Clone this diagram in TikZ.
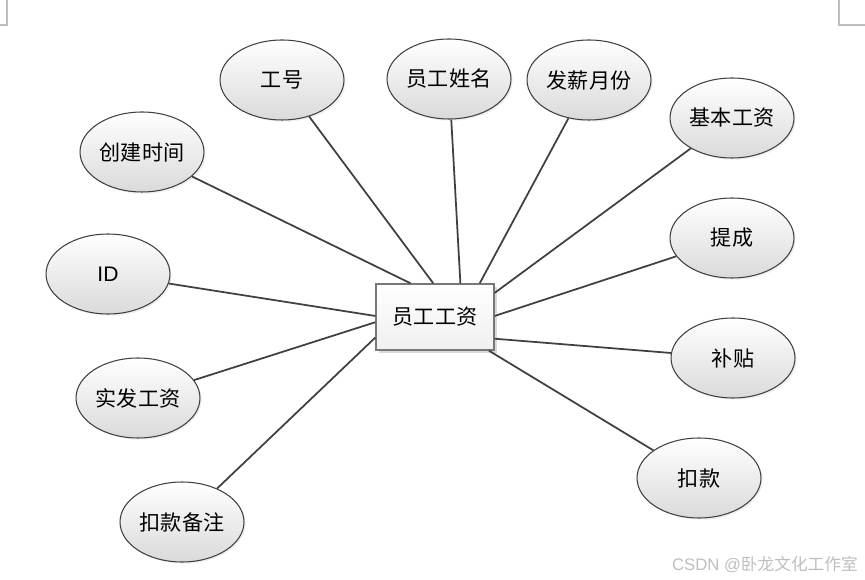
\documentclass[tikz,border=0pt]{standalone}
\usepackage{fontspec}
\setsansfont{Liberation Sans}
\newfontfamily\cjk{Noto Sans CJK SC}
\usetikzlibrary{shapes.geometric,shadows}
\definecolor{erline}{RGB}{64,64,64}
\definecolor{erfill}{RGB}{218,218,218}
\definecolor{erbox}{RGB}{120,120,120}
\definecolor{ermark}{RGB}{190,190,190}

\begin{document}
\begin{tikzpicture}[
  x=0.02cm, y=-0.02cm,
  attr/.style={ellipse, draw=erline, line width=0.6pt, top color=white, bottom color=erfill, minimum width=2.48cm, minimum height=1.6cm, inner sep=0pt, font=\cjk\fontsize{12}{14}\selectfont, drop shadow={opacity=0.12, shadow xshift=1pt, shadow yshift=-1pt}},
  ent/.style={rectangle, draw=erbox, line width=0.8pt, top color=white, bottom color=gray!12, minimum width=2.36cm, minimum height=1.32cm, inner sep=0pt, font=\cjk\fontsize{12}{14}\selectfont, drop shadow={opacity=0.3, shadow xshift=1.5pt, shadow yshift=-1.5pt}},
  link/.style={erline, line width=1pt}
]
\useasboundingbox (0,0) rectangle (865,580);

% crop marks
\draw[ermark, line width=0.6pt] (7,0) -- (7,25) -- (0,25);
\draw[ermark, line width=0.6pt] (839,0) -- (839,25) -- (865,25);

\node[ent] (w) at (435,317) {员工工资};

\node[attr] (e1) at (282,80) {工号};
\node[attr] (e2) at (449,79) {员工姓名};
\node[attr] (e3) at (589,80) {发薪月份};
\node[attr] (e4) at (732,118) {基本工资};
\node[attr] (e5) at (732,238) {提成};
\node[attr] (e6) at (733,358) {补贴};
\node[attr] (e7) at (699,478) {扣款};
\node[attr] (e8) at (182,522) {扣款备注};
\node[attr] (e9) at (138,398) {实发工资};
\node[attr, font=\sffamily\fontsize{12}{14}\selectfont] (e10) at (108,274) {ID};
\node[attr] (e11) at (142,152) {创建时间};

\draw[link] (e1) -- (w.93);
\draw[link] (e2) -- (w.53);
\draw[link] (e3) -- (w.37);
\draw[link] (e4) -- (w.22);
\draw[link] (e5) -- (w.1);
\draw[link] (e6) -- (w.-20);
\draw[link] (e7) -- (w.-32);
\draw[link] (e8) -- (w.-161);
\draw[link] (e9) -- (w.185);
\draw[link] (e10) -- (w.179);
\draw[link] (e11) -- (w.126);

% watermark
\node[ermark, anchor=east, font=\sffamily\fontsize{9.5}{11}\selectfont] (wm) at (864,565) {CSDN @{\cjk 卧龙文化工作室}};
\end{tikzpicture}
\end{document}
